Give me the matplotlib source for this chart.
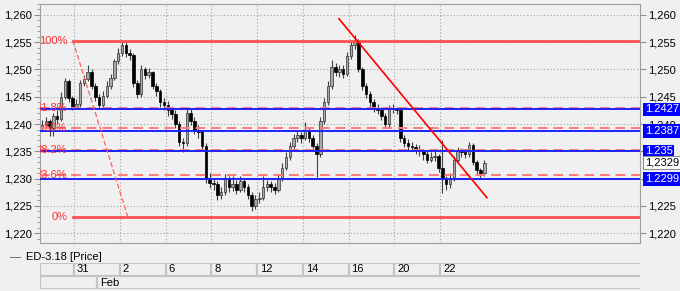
import numpy as np
import matplotlib.pyplot as plt
from matplotlib.ticker import MultipleLocator, FuncFormatter
import matplotlib.transforms as mtransforms

plt.rcParams['font.family'] = ['Liberation Sans', 'DejaVu Sans']
plt.rcParams['font.size'] = 7.5

# price bars, 6 per trading day, day 0 = Jan 31
first_day = -1.4
bars_per_day = 6
closes = [1.2399, 1.2405, 1.2392, 1.2415, 1.2410, 1.2450, 1.2478, 1.2448, 1.2432, 1.2437,
          1.2475, 1.2482, 1.2495, 1.2470, 1.2450, 1.2435, 1.2452, 1.2470, 1.2485, 1.2515,
          1.2530, 1.2545, 1.2530, 1.2527, 1.2475, 1.2455, 1.2500, 1.2490, 1.2495, 1.2470,
          1.2460, 1.2440, 1.2435, 1.2425, 1.2418, 1.2400, 1.2368, 1.2365, 1.2420, 1.2405,
          1.2390, 1.2385, 1.2360, 1.2300, 1.2292, 1.2290, 1.2270, 1.2275, 1.2300, 1.2285,
          1.2290, 1.2280, 1.2295, 1.2285, 1.2270, 1.2250, 1.2262, 1.2265, 1.2285, 1.2290,
          1.2285, 1.2280, 1.2300, 1.2320, 1.2340, 1.2360, 1.2375, 1.2380, 1.2375, 1.2390,
          1.2375, 1.2360, 1.2345, 1.2405, 1.2440, 1.2470, 1.2505, 1.2495, 1.2500, 1.2492,
          1.2525, 1.2545, 1.2550, 1.2500, 1.2470, 1.2455, 1.2440, 1.2430, 1.2425, 1.2415,
          1.2400, 1.2428, 1.2430, 1.2425, 1.2375, 1.2365, 1.2360, 1.2358, 1.2355, 1.2350,
          1.2345, 1.2335, 1.2340, 1.2342, 1.2320, 1.2300, 1.2290, 1.2300, 1.2335, 1.2350,
          1.2348, 1.2345, 1.2362, 1.2330, 1.2315, 1.2310, 1.2329]
highs = [1.2408, 1.2412, 1.2410, 1.2420, 1.2425, 1.2458, 1.2485, 1.2482, 1.2452, 1.2445,
         1.2480, 1.2490, 1.2508, 1.2500, 1.2475, 1.2455, 1.2460, 1.2478, 1.2492, 1.2520,
         1.2540, 1.2553, 1.2550, 1.2538, 1.2530, 1.2480, 1.2508, 1.2505, 1.2502, 1.2498,
         1.2475, 1.2465, 1.2448, 1.2442, 1.2432, 1.2425, 1.2405, 1.2375, 1.2430, 1.2428,
         1.2412, 1.2398, 1.2390, 1.2365, 1.2310, 1.2302, 1.2295, 1.2285, 1.2308, 1.2305,
         1.2305, 1.2298, 1.2305, 1.2300, 1.2290, 1.2275, 1.2270, 1.2275, 1.2305, 1.2298,
         1.2295, 1.2292, 1.2308, 1.2328, 1.2348, 1.2368, 1.2382, 1.2388, 1.2386, 1.2404,
         1.2395, 1.2380, 1.2365, 1.2412, 1.2448, 1.2478, 1.2518, 1.2512, 1.2508, 1.2508,
         1.2532, 1.2552, 1.2563, 1.2555, 1.2505, 1.2475, 1.2460, 1.2445, 1.2437, 1.2432,
         1.2420, 1.2435, 1.2436, 1.2432, 1.2428, 1.2380, 1.2372, 1.2368, 1.2363, 1.2362,
         1.2355, 1.2350, 1.2348, 1.2350, 1.2346, 1.2370, 1.2305, 1.2310, 1.2342, 1.2358,
         1.2356, 1.2354, 1.2368, 1.2366, 1.2335, 1.2320, 1.2335]
lows = [1.2388, 1.2392, 1.2378, 1.2378, 1.2402, 1.2405, 1.2445, 1.2440, 1.2425, 1.2428,
        1.2432, 1.2470, 1.2478, 1.2465, 1.2442, 1.2428, 1.2430, 1.2448, 1.2465, 1.2480,
        1.2510, 1.2525, 1.2522, 1.2518, 1.2468, 1.2448, 1.2450, 1.2482, 1.2484, 1.2465,
        1.2452, 1.2432, 1.2425, 1.2415, 1.2410, 1.2392, 1.2360, 1.2348, 1.2360, 1.2398,
        1.2382, 1.2375, 1.2352, 1.2292, 1.2282, 1.2280, 1.2260, 1.2262, 1.2270, 1.2275,
        1.2278, 1.2272, 1.2275, 1.2275, 1.2262, 1.2240, 1.2245, 1.2255, 1.2260, 1.2278,
        1.2275, 1.2272, 1.2275, 1.2295, 1.2315, 1.2335, 1.2352, 1.2368, 1.2366, 1.2370,
        1.2368, 1.2352, 1.2303, 1.2340, 1.2400, 1.2435, 1.2465, 1.2488, 1.2486, 1.2485,
        1.2488, 1.2520, 1.2538, 1.2495, 1.2462, 1.2448, 1.2432, 1.2422, 1.2418, 1.2408,
        1.2392, 1.2395, 1.2420, 1.2418, 1.2368, 1.2358, 1.2352, 1.2350, 1.2345, 1.2342,
        1.2335, 1.2328, 1.2330, 1.2332, 1.2312, 1.2274, 1.2280, 1.2282, 1.2295, 1.2330,
        1.2340, 1.2338, 1.2340, 1.2325, 1.2308, 1.2302, 1.2305]
first_open = 1.2395

# fibonacci retracement
fib_days = [-0.05, 2.35]
fib_prices = [1.2553, 1.2230]
fib_levels = [1.2306, 1.2353, 1.2392, 1.2430]
fib_names = ['23.6%', '38.2%', '50%', '61.8%']
blue_levels = [1.2299, 1.2350, 1.2387, 1.2427]
blue_names = ['1.2299', '1.235', '1.2387', '1.2427']
last_price = 1.2329

trend_days = [11.58, 18.05]
trend_prices = [1.2593, 1.2265]

# right axis labels hidden behind the price flags
right_hidden = [1.230, 1.235]

tick_days = [0, 2, 4, 6, 8, 10, 12, 14, 16]
tick_names = ['31', '2', '6', '8', '12', '14', '16', '20', '22']
month_day = 1
month_name = 'Feb'

bg = '#f0f0f0'
W, H = 680, 291
fig = plt.figure(figsize=(W / 100, H / 100), dpi=100, facecolor=bg)
ax = fig.add_axes([40 / W, 1 - 243 / H, 600 / W, 239 / H], facecolor=bg)
xmin, xmax = -1.486, 24.74
ax.set_xlim(xmin, xmax)
ax.set_ylim(1.2182, 1.2620)

# candles
c = np.array(closes)
o = np.r_[first_open, c[:-1]]
t = first_day + np.arange(len(c)) / bars_per_day
up = c >= o
ax.vlines(t, lows, highs, color='#404040', lw=0.8, zorder=3)
ax.bar(t[up], (c - o)[up], bottom=o[up], width=0.11, color='#a8a8a8',
       edgecolor='#303030', lw=0.5, zorder=4)
ax.bar(t[~up], (o - c)[~up], bottom=c[~up], width=0.11, color='black',
       edgecolor='black', lw=0.5, zorder=4)

# fib lines
for lv in fib_prices:
    ax.plot([fib_days[0], xmax], [lv, lv], color='#ff5050', lw=2, zorder=5)
for lv in fib_levels:
    ax.axhline(lv, color='#ff7a7a', lw=1.4, ls=(0, (5, 3)), zorder=5)
for lv in blue_levels:
    ax.axhline(lv, color='#2020ff', lw=1.4, zorder=5)
ax.plot(fib_days, fib_prices, color='#ff6060', lw=0.9, ls=(0, (4, 2)), zorder=5)
for lv, nm in zip(fib_prices + fib_levels, ['100%', '0%'] + fib_names):
    ax.text(fib_days[0] - 0.25, lv, nm, color='#ff3030', ha='right', va='center',
            fontsize=8, zorder=6, clip_on=True)

ax.plot(trend_days, trend_prices, color='#ff0000', lw=1.2, zorder=6)

# axes styling
fmt = FuncFormatter(lambda v, p: f'{v:.3f}'.replace('.', ','))
ax.yaxis.set_major_locator(MultipleLocator(0.005))
ax.yaxis.set_minor_locator(MultipleLocator(0.001))
ax.yaxis.set_major_formatter(fmt)
ax.set_xticks(tick_days)
ax.tick_params(axis='x', length=0, labelbottom=False)
ax.tick_params(axis='y', which='both', left=True, right=True, labelleft=True,
               labelright=False, color='#909090', labelsize=8)
ax.tick_params(axis='y', which='major', length=4, pad=2)
ax.tick_params(axis='y', which='minor', length=2)
ax.grid(True, color='#a0a0a0', lw=0.8, ls=(0, (1, 2)))
for s in ax.spines.values():
    s.set_color('#a0a0a0')

# right side labels
rax = ax.twinx()
rax.set_ylim(ax.get_ylim())
rticks = np.round(np.arange(1.220, 1.2601, 0.005), 3)
rax.set_yticks(rticks)
rax.set_yticklabels(['' if any(abs(v - h) < 1e-6 for h in right_hidden) else fmt(v, None)
                     for v in rticks])
rax.tick_params(axis='y', length=4, pad=2, color='#909090', labelsize=8)
for s in rax.spines.values():
    s.set_visible(False)

# right side price flags
tr = mtransforms.blended_transform_factory(ax.transAxes, ax.transData)
for lv, nm in zip(blue_levels, blue_names):
    rax.text(1.008, lv, nm, transform=tr, color='white', ha='left', va='center',
             fontsize=8, clip_on=False, zorder=10,
             bbox=dict(boxstyle='square,pad=0.15', fc='#0000ff', ec='none'))
rax.text(1.008, last_price, f'{last_price:.4f}'.replace('.', ','), transform=tr,
         color='black', ha='left', va='center', fontsize=8, clip_on=False, zorder=10,
         bbox=dict(boxstyle='square,pad=0.15', fc='white', ec='#909090', lw=0.8))

# legend
fig.text(10 / W, 1 - 257 / H, '\u2014', color='#505050', va='center', fontsize=8)
fig.text(26 / W, 1 - 257 / H, 'ED-3.18 [Price]', color='black', va='center', fontsize=8)

# date bar
dax = fig.add_axes([40 / W, 1 - 289 / H, 600 / W, 26 / H], facecolor=bg)
dax.set_xlim(xmin, xmax)
dax.set_ylim(0, 2)
dax.axis('off')
for y in [0, 1, 2]:
    dax.axhline(y, color='#c4c4c4', lw=1.6)
for d, nm in zip(tick_days, tick_names):
    dax.plot([d, d], [1, 2], color='#c4c4c4', lw=1.6)
    dax.text(d + 0.13, 1.5, nm, ha='left', va='center', fontsize=8)
dax.plot([xmin + 0.02, xmin + 0.02], [0, 2], color='#c4c4c4', lw=1.6)
dax.plot([month_day, month_day], [0, 1], color='#c4c4c4', lw=1.6)
dax.text(month_day + 0.13, 0.5, month_name, ha='left', va='center', fontsize=8)

fig.savefig('out.png', dpi=100, facecolor=bg)
